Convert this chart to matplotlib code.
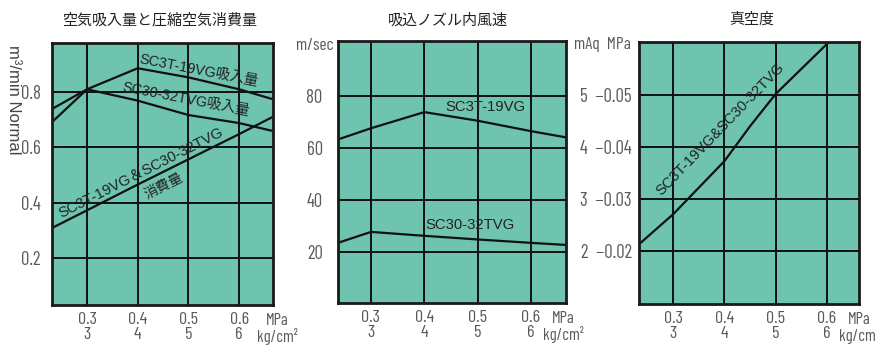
import matplotlib
matplotlib.use('agg')
import matplotlib.pyplot as plt

plt.rcParams['font.family'] = ['Liberation Sans', 'Noto Sans CJK JP', 'DejaVu Sans']

bg = '#6ec4af'
numfont = ['Barlow Condensed', 'Liberation Sans']
jp = ['Noto Sans CJK JP', 'DejaVu Sans']
lab = ['Liberation Sans', 'Noto Sans CJK JP']

# x axis: supply pressure (MPa)
xt = [0.3, 0.4, 0.5, 0.6]
xt_lab = ['0.3\n3', '0.4\n4', '0.5\n5', '0.6\n6']

# panel 1: suction flow / air consumption (m3/min Normal)
p_19vg = [0.233, 0.3, 0.4, 0.5, 0.6, 0.665]
suc_19vg = [0.695, 0.81, 0.886, 0.853, 0.81, 0.775]
p_32tvg = [0.233, 0.3, 0.4, 0.5, 0.6, 0.665]
suc_32tvg = [0.741, 0.81, 0.769, 0.717, 0.688, 0.66]
p_cons = [0.233, 0.3, 0.4, 0.5, 0.6, 0.665]
cons = [0.311, 0.373, 0.466, 0.557, 0.648, 0.709]

# panel 2: nozzle air speed (m/sec)
p_v = [0.238, 0.3, 0.4, 0.5, 0.6, 0.666]
v_19vg = [63.2, 67.5, 73.7, 70.4, 66.4, 64.0]
v_32tvg = [23.5, 27.7, 26.2, 24.8, 23.5, 22.7]

# panel 3: vacuum (mAq)
p_vac = [0.233, 0.3, 0.4, 0.45, 0.5, 0.6, 0.61]
vac = [2.13, 2.71, 3.73, 4.40, 5.02, 5.98, 6.08]

fig = plt.figure(figsize=(8.76, 3.47), dpi=100)

def panel(rect, xlim, ylim, yt, ylab, ypad, ux):
    ax = fig.add_axes(rect)
    ax.set_facecolor(bg)
    ax.set_xlim(xlim)
    ax.set_ylim(ylim)
    ax.set_xticks(xt)
    ax.set_xticklabels(xt_lab, fontsize=13, color='#5a5a5a', linespacing=1.02, family=numfont)
    ax.set_yticks(yt)
    ax.set_yticklabels(ylab, fontsize=13.5, color='#5a5a5a', family=numfont)
    ax.tick_params(axis='x', length=0, pad=5)
    ax.tick_params(axis='y', length=0, pad=ypad)
    ax.grid(True, color='#111111', lw=1.4)
    ax.set_axisbelow(True)
    for s in ax.spines.values():
        s.set_linewidth(2)
        s.set_color('#1a1a1a')
    ax.text(ux, -0.032, 'MPa', transform=ax.transAxes, ha='center', va='top',
            fontsize=12, color='#5a5a5a', family=numfont)
    ax.text(ux, -0.086, 'kg/cm²', transform=ax.transAxes, ha='center', va='top',
            fontsize=12, color='#5a5a5a', family=numfont)
    return ax

ax1 = panel([0.0594, 0.121, 0.2523, 0.755], (0.231, 0.667), (0.031, 0.977),
            [0.2, 0.4, 0.6, 0.8], ['0.2', '0.4', '0.6', '0.8'], 8, 1.02)
ax1.plot(p_19vg, suc_19vg, color='#111111', lw=1.6)
ax1.plot(p_32tvg, suc_32tvg, color='#111111', lw=1.6)
ax1.plot(p_cons, cons, color='#111111', lw=1.6)
ax1.text(0.520, 0.878, 'SC3T-19VG吸入量', rotation=-11, ha='center', va='center',
         fontsize=10.4, color='#222222', family=lab)
ax1.text(0.495, 0.773, 'SC30-32TVG吸入量', rotation=-11, ha='center', va='center',
         fontsize=10.4, color='#222222', family=lab)
ax1.text(0.406, 0.510, 'SC3T-19VG＆SC30-32TVG', rotation=27, ha='center', va='center',
         fontsize=10.6, color='#222222', family=lab)
ax1.text(0.451, 0.459, '消費量', rotation=27, ha='center', va='center',
         fontsize=10, color='#222222', family=jp)
fig.text(13 / 876, 1 - 100 / 347, 'm³/min Normal', rotation=270, ha='center', va='center',
         fontsize=12, color='#444444')

ax2 = panel([0.3858, 0.1268, 0.2603, 0.755], (0.238, 0.666), (0.4, 101),
            [20, 40, 60, 80], ['20', '40', '60', '80'], 11, 0.99)
ax2.plot(p_v, v_19vg, color='#111111', lw=1.6)
ax2.plot(p_v, v_32tvg, color='#111111', lw=1.6)
ax2.text(0.514, 75.8, 'SC3T-19VG', ha='center', va='center', fontsize=10.7, color='#222222')
ax2.text(0.486, 30.3, 'SC30-32TVG', ha='center', va='center', fontsize=10.7, color='#222222')
fig.text(315 / 876, 1 - 45 / 347, 'm/sec', ha='center', va='center', fontsize=12.5,
         color='#5a5a5a', family=numfont)

ax3 = panel([0.7295, 0.1239, 0.2511, 0.755], (0.233, 0.663), (0.98, 6.02),
            [2, 3, 4, 5], ['2  −0.02', '3  −0.03', '4  −0.04', '5  −0.05'], 5, 1.0)
ax3.plot(p_vac, vac, color='#111111', lw=1.6)
ax3.text(0.392, 4.34, 'SC3T-19VG&SC30-32TVG', rotation=46, ha='center', va='center',
         fontsize=10.6, color='#222222')
fig.text(602 / 876, 1 - 45 / 347, 'mAq  MPa', ha='center', va='center', fontsize=12.5,
         color='#5a5a5a', family=numfont)

# titles
fig.text(160 / 876, 1 - 20 / 347, '空気吸入量と圧縮空気消費量', ha='center', va='center',
         fontsize=10.8, color='#222222', family=jp)
fig.text(448 / 876, 1 - 20 / 347, '吸込ノズル内風速', ha='center', va='center',
         fontsize=10.8, color='#222222', family=jp)
fig.text(752 / 876, 1 - 20 / 347, '真空度', ha='center', va='center',
         fontsize=10.8, color='#222222', family=jp)

fig.savefig('out.png', dpi=100, facecolor='white')
